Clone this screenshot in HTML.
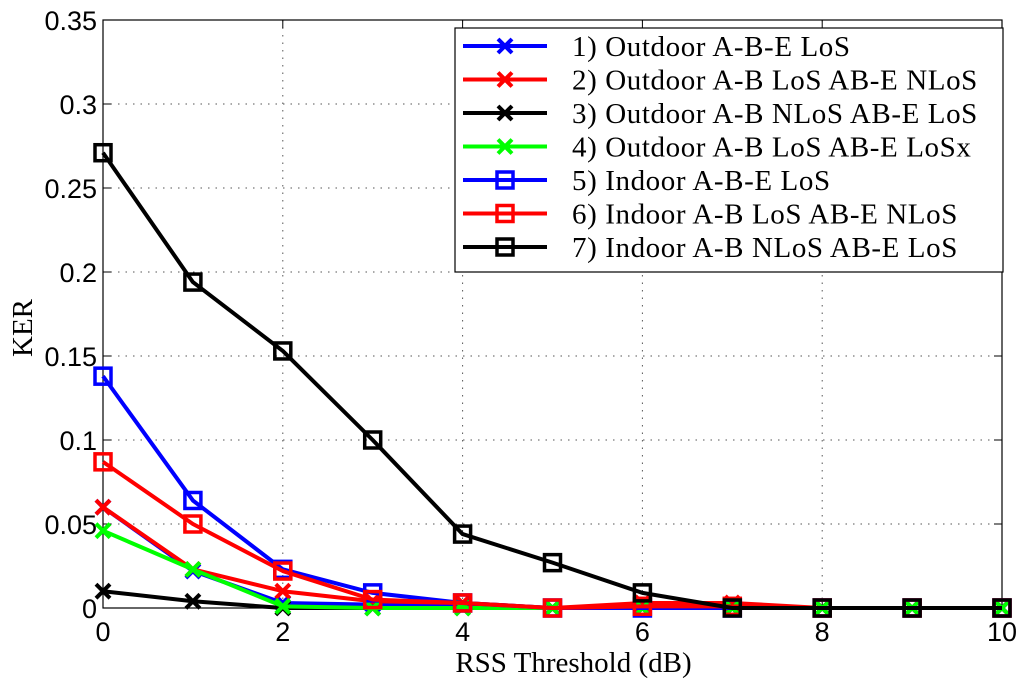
<!DOCTYPE html>
<html><head><meta charset="utf-8"><style>
body{margin:0;background:#fff}
svg{display:block}
</style></head><body>
<svg id="c" width="1024" height="685" xmlns="http://www.w3.org/2000/svg"></svg>
<script>
const xs=[0,1,2,3,4,5,6,7,8,9,10];
const s1=[0.06,0.022,0.003,0.002,0.001,0,0,0,0,0,0];
const s2=[0.06,0.023,0.01,0.004,0.003,0,0.003,0.003,0,0,0];
const s3=[0.01,0.004,0,0,0,0,0,0,0,0,0];
const s4=[0.046,0.023,0.001,0,0,0,0,0,0,0,0];
const s5=[0.138,0.064,0.023,0.009,0.003,0,0,0,0,0,0];
const s6=[0.087,0.05,0.022,0.005,0.003,0,0.001,0.001,0,0,0];
const s7=[0.271,0.194,0.153,0.1,0.044,0.027,0.009,0,0,0,0];
const xTicks=[0,2,4,6,8,10];
const yTicks=[0,0.05,0.1,0.15,0.2,0.25,0.3,0.35];
const yTickLabels=["0","0.05","0.1","0.15","0.2","0.25","0.3","0.35"];
const names=["1) Outdoor A-B-E LoS","2) Outdoor A-B LoS AB-E NLoS","3) Outdoor A-B NLoS AB-E LoS","4) Outdoor A-B LoS AB-E LoSx","5) Indoor A-B-E LoS","6) Indoor A-B LoS AB-E NLoS","7) Indoor A-B NLoS AB-E LoS"];
const L=103,R=1002,T=20,B=608;
const X=v=>L+(R-L)*v/10, Y=v=>B-(B-T)*v/0.35;
const svg=document.getElementById('c');const NS='http://www.w3.org/2000/svg';
function el(t,a,p){const e=document.createElementNS(NS,t);for(const k in a)e.setAttribute(k,a[k]);(p||svg).appendChild(e);return e;}
xTicks.forEach(v=>{if(v>0&&v<10){const g=el('line',{x1:X(v),x2:X(v),y1:T,y2:B,stroke:'#555','stroke-dasharray':'1.5,6'});

}});
yTicks.forEach(v=>{if(v>0&&v<0.35){const g=el('line',{x1:L,x2:R,y1:Y(v),y2:Y(v),stroke:'#555','stroke-dasharray':'1.5,6'});

}});
const box=el('rect',{x:L,y:T,width:R-L,height:B-T,fill:'none',stroke:'#000','stroke-width':1.2});


xTicks.forEach(v=>{el('line',{x1:X(v),x2:X(v),y1:B,y2:B-8,stroke:'#000'});el('line',{x1:X(v),x2:X(v),y1:T,y2:T+8,stroke:'#000'});
const t=el('text',{x:X(v),y:B+33,'text-anchor':'middle','font-family':'Liberation Sans, sans-serif','font-size':27});t.textContent=v;

});
yTicks.forEach((v,i)=>{el('line',{x1:L,x2:L+8,y1:Y(v),y2:Y(v),stroke:'#000'});el('line',{x1:R,x2:R-8,y1:Y(v),y2:Y(v),stroke:'#000'});
const t=el('text',{x:L-6,y:Y(v)+10,'text-anchor':'end','font-family':'Liberation Sans, sans-serif','font-size':27});t.textContent=yTickLabels[i];

});
const xt=el('text',{x:(L+R)/2+21,y:672,'text-anchor':'middle','font-family':'Liberation Serif, serif','font-size':29});xt.textContent='RSS Threshold (dB)';


const yt=el('text',{x:32,y:328,'text-anchor':'middle','font-family':'Liberation Serif, serif','font-size':29,transform:'rotate(-90 32 328)'});yt.textContent='KER';


const series=[[s1,'#00f','x'],[s2,'#f00','x'],[s3,'#000','x'],[s4,'#0f0','x'],[s5,'#00f','s'],[s6,'#f00','s'],[s7,'#000','s']];
function marker(g,x,y,c,m){if(m==='x'){el('path',{d:`M${x-7},${y-7}L${x+7},${y+7}M${x-7},${y+7}L${x+7},${y-7}`,stroke:c,'stroke-width':4,fill:'none'},g);}
else el('rect',{x:x-8,y:y-8,width:16,height:16,stroke:c,'stroke-width':3.5,fill:'none'},g);}
series.forEach((s,i)=>{const g=el('g',{});


el('polyline',{points:s[0].map((v,j)=>X(xs[j])+','+Y(v)).join(' '),fill:'none',stroke:s[1],'stroke-width':4,'stroke-linejoin':'round'},g);
s[0].forEach((v,j)=>marker(g,X(xs[j]),Y(v),s[1],s[2]));});
const lg=el('g',{});


el('rect',{x:455,y:28,width:548,height:244,fill:'#fff',stroke:'#000','stroke-width':1.2},lg);
series.forEach((s,i)=>{const y=46+i*33.5;const e=el('g',{},lg);


el('line',{x1:463,x2:547,y1:y,y2:y,stroke:s[1],'stroke-width':4},e);marker(e,505,y,s[1],s[2]);
const t=el('text',{x:572,y:y+10,'font-family':'Liberation Serif, serif','font-size':29,'letter-spacing':0.6},e);t.textContent=names[i];});
</script>
</body></html>
